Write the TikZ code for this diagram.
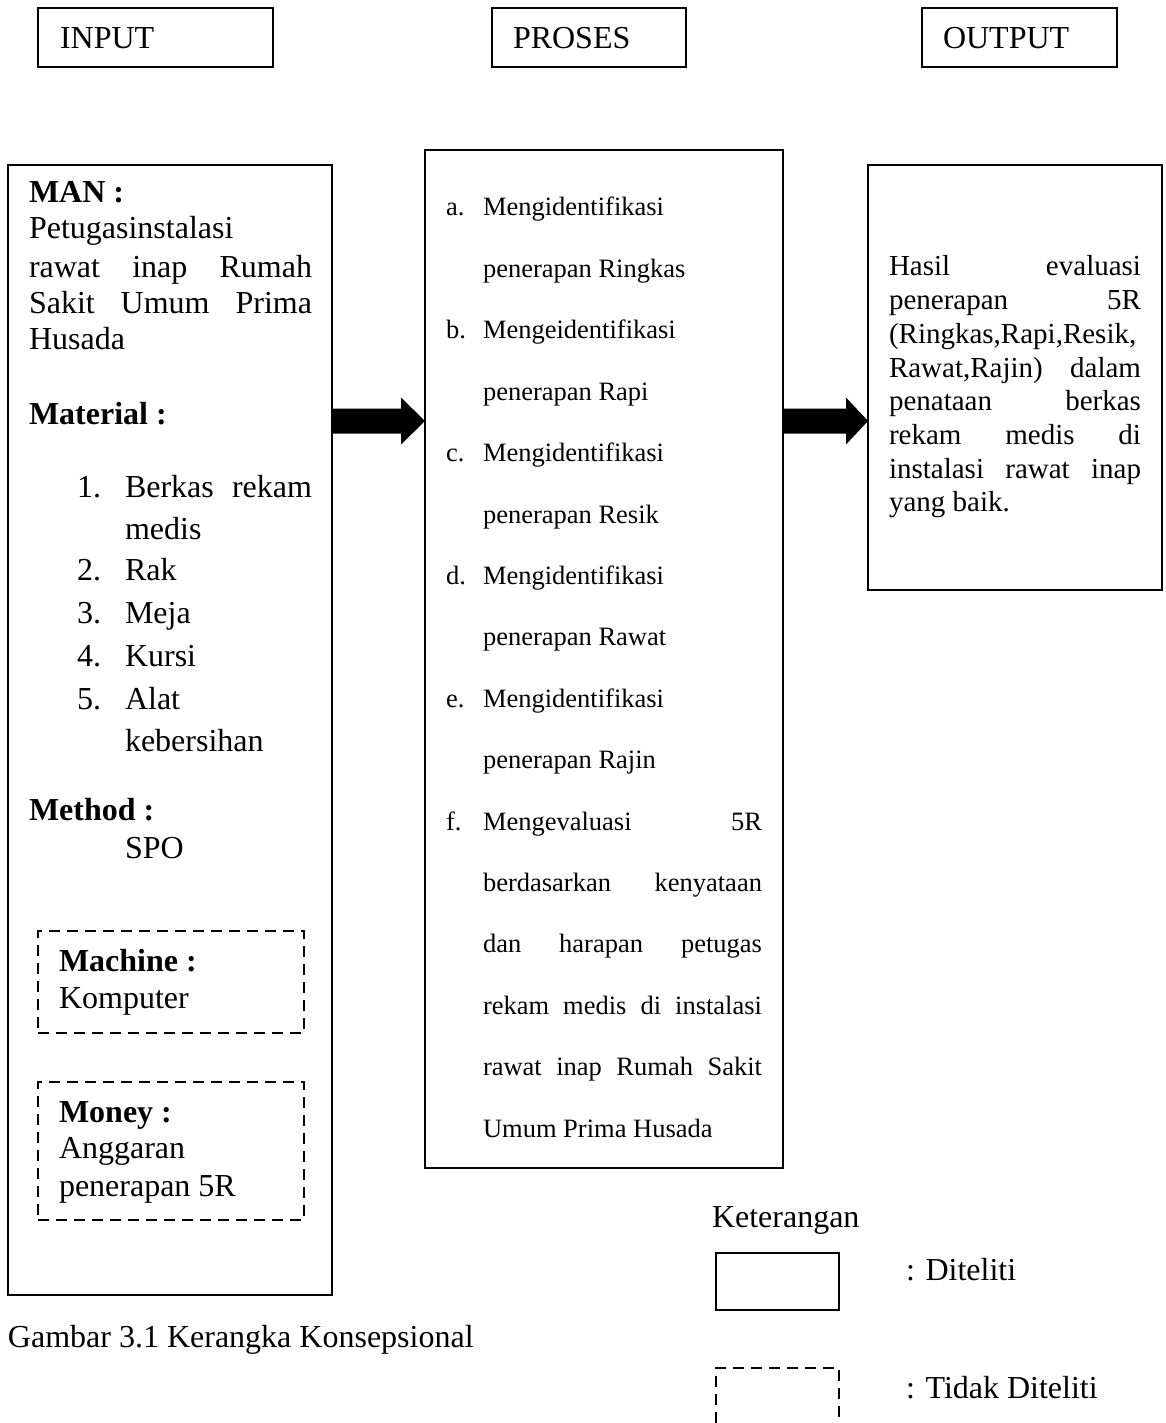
\documentclass[tikz,border=0pt]{standalone}
\usepackage{fontspec}
\setmainfont{Liberation Serif}
\usetikzlibrary{calc}
\begin{document}
\begin{tikzpicture}[x=1pt,y=-1pt,
  frame/.style={draw, line width=1.6pt, inner sep=0pt, outer sep=0pt, anchor=north west},
  dframe/.style={draw, line width=2.8pt, dash pattern=on 11pt off 7pt, inner sep=0pt, outer sep=0pt, anchor=north west},
  ln/.style={anchor=base west, inner sep=0pt, outer sep=0pt},
  t32/.style={font=\fontsize{32}{37}\selectfont},
  t29/.style={font=\fontsize{29}{33}\selectfont},
  t26/.style={font=\fontsize{26.5}{30}\selectfont},
  bigarrow/.style={fill=black}
]
\useasboundingbox (0,0) rectangle (1165,1423);

% header boxes
\node[frame, minimum width=235pt, minimum height=59pt] (hin) at (38,8) {};
\node[frame, minimum width=194pt, minimum height=59pt] (hpr) at (492,8) {};
\node[frame, minimum width=195pt, minimum height=59pt] (hout) at (922,8) {};
\node[ln,t32] (hintxt) at (60,49) {INPUT};
\node[ln,t32] (hprtxt) at (513,49) {PROSES};
\node[ln,t32] (houttxt) at (943,49) {OUTPUT};

% main boxes
\node[frame, minimum width=324pt, minimum height=1130pt] (inbox) at (8,165) {};
\node[frame, minimum width=358pt, minimum height=1018pt] (proc) at (425,150) {};
\node[frame, minimum width=294pt, minimum height=425pt] (outbox) at (868,165) {};
\node[dframe, minimum width=266pt, minimum height=102pt] (mach) at (38,931) {};
\node[dframe, minimum width=266pt, minimum height=138pt] (money) at (38,1082) {};

% arrows
\coordinate (ay) at (0,421);
\fill[bigarrow] ($(inbox.east|-ay)+(0,-12.5)$) -- ($(proc.west|-ay)+(-24,-12.5)$) -- ($(proc.west|-ay)+(-24,-23.5)$) -- (proc.west|-ay) -- ($(proc.west|-ay)+(-24,23.5)$) -- ($(proc.west|-ay)+(-24,12.5)$) -- ($(inbox.east|-ay)+(0,12.5)$) -- cycle;
\fill[bigarrow] ($(proc.east|-ay)+(0,-12.5)$) -- ($(outbox.west|-ay)+(-22,-12.5)$) -- ($(outbox.west|-ay)+(-22,-23.5)$) -- (outbox.west|-ay) -- ($(outbox.west|-ay)+(-22,23.5)$) -- ($(outbox.west|-ay)+(-22,12.5)$) -- ($(proc.east|-ay)+(0,12.5)$) -- cycle;

% input text
\node[ln,t32] (man) at (29,203) {\textbf{MAN :}};
\node[ln,t32] (man1) at (29,239) {Petugasinstalasi};
\node[ln,t32] (man2) at (29,277) {\makebox[283pt][s]{rawat inap Rumah}};
\node[ln,t32] (man3) at (29,313) {\makebox[283pt][s]{Sakit Umum Prima}};
\node[ln,t32] (man4) at (29,349) {Husada};
\node[ln,t32] (mat) at (29,424) {\textbf{Material :}};
\node[ln,t32] (n1) at (77,497) {1.};
\node[ln,t32] (m1) at (125,497) {\makebox[187pt][s]{Berkas rekam}};
\node[ln,t32] (m1b) at (125,539) {medis};
\node[ln,t32] (n2) at (77,580) {2.};
\node[ln,t32] (m2) at (125,580) {Rak};
\node[ln,t32] (n3) at (77,623) {3.};
\node[ln,t32] (m3) at (125,623) {Meja};
\node[ln,t32] (n4) at (77,666) {4.};
\node[ln,t32] (m4) at (125,666) {Kursi};
\node[ln,t32] (n5) at (77,709) {5.};
\node[ln,t32] (m5) at (125,709) {Alat};
\node[ln,t32] (m5b) at (125,751) {kebersihan};
\node[ln,t32] (meth) at (29,820) {\textbf{Method :}};
\node[ln,t32] (spo) at (125,858) {SPO};
\node[ln,t32] (machh) at (59,971) {\textbf{Machine :}};
\node[ln,t32] (machk) at (59,1008) {Komputer};
\node[ln,t32] (monh) at (59,1122) {\textbf{Money :}};
\node[ln,t32] (mon1) at (59,1158) {Anggaran};
\node[ln,t32] (mon2) at (59,1196) {penerapan 5R};

% process text
\node[ln,t26] (la) at (446,216) {a.};
\node[ln,t26] (p0) at (483,216) {Mengidentifikasi};
\node[ln,t26] (p1) at (483,277.4) {penerapan Ringkas};
\node[ln,t26] (lb) at (446,338.8) {b.};
\node[ln,t26] (p2) at (483,338.8) {Mengeidentifikasi};
\node[ln,t26] (p3) at (483,400.2) {penerapan Rapi};
\node[ln,t26] (lc) at (446,461.6) {c.};
\node[ln,t26] (p4) at (483,461.6) {Mengidentifikasi};
\node[ln,t26] (p5) at (483,523) {penerapan Resik};
\node[ln,t26] (ld) at (446,584.4) {d.};
\node[ln,t26] (p6) at (483,584.4) {Mengidentifikasi};
\node[ln,t26] (p7) at (483,645.8) {penerapan Rawat};
\node[ln,t26] (le) at (446,707.2) {e.};
\node[ln,t26] (p8) at (483,707.2) {Mengidentifikasi};
\node[ln,t26] (p9) at (483,768.6) {penerapan Rajin};
\node[ln,t26] (lf) at (446,830) {f.};
\node[ln,t26] (p10) at (483,830) {\makebox[279pt][s]{Mengevaluasi 5R}};
\node[ln,t26] (p11) at (483,891.4) {\makebox[279pt][s]{berdasarkan kenyataan}};
\node[ln,t26] (p12) at (483,952.8) {\makebox[279pt][s]{dan harapan petugas}};
\node[ln,t26] (p13) at (483,1014.2) {\makebox[279pt][s]{rekam medis di instalasi}};
\node[ln,t26] (p14) at (483,1075.6) {\makebox[279pt][s]{rawat inap Rumah Sakit}};
\node[ln,t26] (p15) at (483,1137) {Umum Prima Husada};

% output text
\node[ln,t29] (o0) at (889,276) {\makebox[252pt][s]{Hasil evaluasi}};
\node[ln,t29] (o1) at (889,309.7) {\makebox[252pt][s]{penerapan 5R}};
\node[ln,t29] (o2) at (889,343.4) {(Ringkas,Rapi,Resik,};
\node[ln,t29] (o3) at (889,377.1) {\makebox[252pt][s]{Rawat,Rajin) dalam}};
\node[ln,t29] (o4) at (889,410.8) {\makebox[252pt][s]{penataan berkas}};
\node[ln,t29] (o5) at (889,444.5) {\makebox[252pt][s]{rekam medis di}};
\node[ln,t29] (o6) at (889,478.2) {\makebox[252pt][s]{instalasi rawat inap}};
\node[ln,t29] (o7) at (889,511.9) {yang baik.};

% legend
\node[ln,t32] (ket) at (712,1227) {Keterangan};
\node[frame, minimum width=123pt, minimum height=57pt] (legsolid) at (716,1253) {};
\node[ln,t32] (dit) at (906,1280) {: Diteliti};
\draw[line width=2.8pt, dash pattern=on 11pt off 7pt] (716,1423) -- (716,1368) -- (839,1368) -- (839,1423);
\node[ln,t32] (tdit) at (906,1398) {: Tidak Diteliti};

% caption
\node[ln,t32] (cap) at (8,1347) {Gambar 3.1 Kerangka Konsepsional};
\end{tikzpicture}
\end{document}
